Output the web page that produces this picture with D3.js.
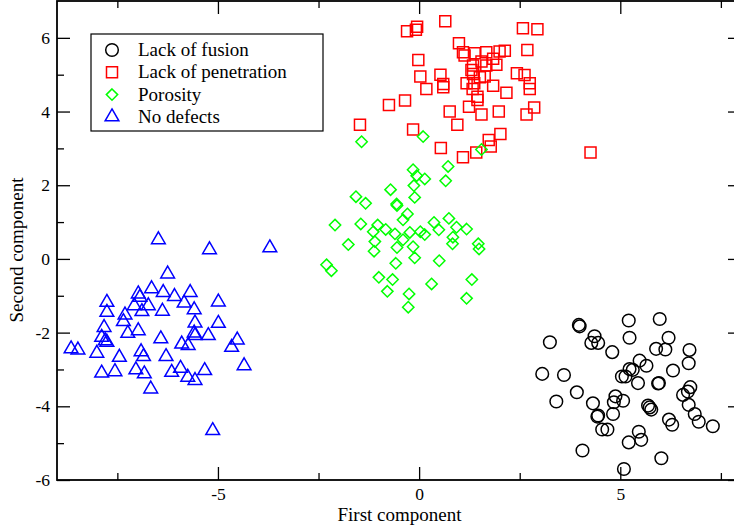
<!DOCTYPE html>
<html>
<head>
<meta charset="utf-8">
<script src="https://cdn.jsdelivr.net/npm/d3@7"></script>
<style>
  body { margin: 0; background: #fff; }
  svg text { font-family: "Liberation Serif", "Times New Roman", serif; fill: #000; }
</style>
</head>
<body>
<svg id="chart"></svg>
<script>
// component scores, [first, second]
const lackOfFusion = [
  [3.97,-1.79],[3.99,-1.83],[5.21,-1.67],[5.98,-1.63],[3.25,-2.26],[4.36,-2.10],[4.28,-2.28],[4.45,-2.28],
  [4.80,-2.53],[5.23,-2.14],[6.20,-2.14],[5.89,-2.44],[6.12,-2.46],[6.72,-2.47],[5.48,-2.76],[5.65,-2.90],
  [5.23,-2.99],[5.31,-3.01],[6.70,-2.83],[6.31,-3.03],[3.06,-3.12],[3.60,-3.15],[5.04,-3.19],[5.13,-3.19],
  [5.44,-3.37],[5.96,-3.37],[5.94,-3.38],[6.74,-3.48],[3.92,-3.62],[6.56,-3.69],[6.68,-3.60],[4.88,-3.73],
  [5.07,-3.85],[4.84,-3.89],[3.41,-3.87],[4.32,-3.92],[6.70,-3.96],[5.69,-3.98],[5.73,-4.03],[5.77,-4.09],
  [4.45,-4.25],[4.82,-4.21],[6.85,-4.21],[4.43,-4.28],[6.21,-4.36],[6.95,-4.42],[6.29,-4.50],[7.30,-4.54],
  [4.55,-4.63],[4.68,-4.63],[5.46,-4.69],[5.52,-4.91],[5.21,-4.98],[4.06,-5.20],[6.02,-5.41],[5.09,-5.70]
];
const lackOfPenetration = [
  [-0.05,6.30],[-0.30,6.18],[-0.08,6.22],[0.65,6.45],[2.58,6.26],[2.94,6.23],[0.99,5.85],[-0.02,5.40],
  [1.09,5.61],[1.38,5.58],[1.67,5.61],[2.00,5.63],[2.13,5.65],[2.69,5.67],[1.13,5.52],[1.55,5.36],
  [1.84,5.43],[1.92,5.27],[1.34,5.25],[1.67,5.25],[1.30,5.13],[0.03,4.95],[0.53,5.00],[1.34,5.02],
  [1.63,4.95],[1.51,4.93],[2.43,5.04],[2.62,4.99],[0.60,4.75],[0.60,4.66],[1.18,4.77],[1.37,4.77],
  [1.84,4.70],[2.75,4.77],[0.18,4.61],[1.33,4.61],[2.17,4.51],[2.75,4.61],[1.45,4.40],[1.45,4.31],
  [-0.35,4.30],[-0.75,4.18],[0.76,4.00],[1.24,4.13],[1.98,4.00],[2.86,4.11],[1.55,3.92],[2.67,3.92],
  [-1.47,3.64],[0.95,3.64],[-0.15,3.51],[2.02,3.39],[1.73,3.23],[0.54,3.01],[1.78,3.05],[1.42,2.89],
  [1.09,2.76],[4.26,2.89]
];
const porosity = [
  [-1.43,3.18],[0.10,3.32],[1.55,2.97],[0.72,2.51],[0.66,2.12],[-0.15,2.42],[-0.06,2.26],[0.14,2.17],
  [-0.13,1.99],[-0.71,1.88],[-0.11,1.67],[-1.57,1.69],[-1.33,1.51],[-0.56,1.49],[-0.55,1.45],[-0.29,1.22],
  [-0.40,1.06],[-2.09,0.92],[-1.45,0.95],[-1.03,0.92],[0.74,1.10],[0.37,0.99],[-1.14,0.74],[-0.83,0.80],
  [-0.60,0.68],[-0.23,0.72],[0.03,0.74],[0.14,0.66],[0.49,0.79],[0.93,0.86],[1.18,0.81],[0.84,0.59],
  [-0.40,0.52],[-1.10,0.47],[-1.76,0.39],[-0.55,0.31],[-0.15,0.33],[-1.12,0.21],[0.83,0.41],[1.47,0.41],
  [1.49,0.27],[-0.11,0.03],[0.50,-0.05],[-0.58,-0.12],[-2.30,-0.16],[-2.18,-0.32],[-1.00,-0.50],[-0.66,-0.56],
  [0.31,-0.68],[1.31,-0.56],[-0.79,-0.88],[-0.25,-0.95],[1.18,-1.07],[-0.27,-1.31]
];
const noDefects = [
  [-6.48,0.52],[-5.21,0.25],[-3.71,0.30],[-6.25,-0.41],[-6.65,-0.81],[-6.98,-0.95],[-6.36,-0.91],[-6.08,-1.02],
  [-5.69,-0.91],[-7.76,-1.18],[-6.94,-1.04],[-7.08,-1.27],[-6.73,-1.27],[-5.84,-1.20],[-4.99,-1.17],[-7.76,-1.45],
  [-7.31,-1.52],[-6.89,-1.43],[-6.38,-1.42],[-5.59,-1.38],[-7.35,-1.70],[-5.57,-1.74],[-4.99,-1.75],[-7.83,-1.86],
  [-6.98,-1.95],[-7.24,-2.02],[-7.89,-2.13],[-7.80,-2.22],[-7.76,-2.26],[-6.42,-2.17],[-5.57,-2.08],[-5.59,-2.01],
  [-5.24,-2.08],[-4.52,-2.20],[-5.90,-2.31],[-5.74,-2.35],[-4.66,-2.40],[-8.65,-2.44],[-8.48,-2.47],[-8.01,-2.56],
  [-6.91,-2.52],[-7.45,-2.67],[-6.85,-2.65],[-6.29,-2.65],[-4.35,-2.90],[-7.89,-3.10],[-7.56,-3.06],[-7.04,-3.01],
  [-6.83,-3.12],[-6.15,-3.08],[-5.93,-2.97],[-5.75,-3.21],[-5.57,-3.30],[-5.33,-3.03],[-6.67,-3.53],[-5.13,-4.66]
];

const seriesNames = ["Lack of fusion", "Lack of penetration", "Porosity", "No defects"];
const seriesColors = ["#000000", "#ff0000", "#00ff00", "#0000ff"];
const xMajorTicks = [-5, 0, 5];
const xMinorTicks = [-7.5, -2.5, 2.5, 7.5];
const yMajorTicks = [-6, -4, -2, 0, 2, 4, 6];
const yMinorTicks = [-5, -3, -1, 1, 3, 5];

const width = 734;
const height = 529;
const margin = { top: 1, right: -7, bottom: 49, left: 57 };
const innerW = width - margin.left - margin.right;
const innerH = height - margin.top - margin.bottom;

const svg = d3.select("#chart").attr("width", width).attr("height", height);
const g = svg.append("g").attr("transform", "translate(" + margin.left + "," + margin.top + ")");

const x = d3.scaleLinear().domain([-9, 8]).range([0, innerW]);
const y = d3.scaleLinear().domain([-6, 7]).range([innerH, 0]);

// axes: ticks point inward, labels only on bottom and left
function addAxis(axis, transform) {
  const a = g.append("g").attr("transform", transform).call(axis);
  a.select(".domain").remove();
  a.selectAll("line").attr("stroke", "#000").attr("stroke-width", 1.3);
  a.selectAll("text").style("font-size", "17.5px").attr("fill", "#000");
  return a;
}
addAxis(d3.axisBottom(x).tickValues(xMajorTicks).tickSize(-13).tickPadding(8).tickFormat(d3.format("d")), "translate(0," + innerH + ")");
addAxis(d3.axisBottom(x).tickValues(xMinorTicks).tickSize(-7).tickFormat(""), "translate(0," + innerH + ")");
addAxis(d3.axisTop(x).tickValues(xMajorTicks).tickSize(-13).tickFormat(""), "translate(0,0)");
addAxis(d3.axisTop(x).tickValues(xMinorTicks).tickSize(-7).tickFormat(""), "translate(0,0)");
addAxis(d3.axisLeft(y).tickValues(yMajorTicks).tickSize(-13).tickPadding(7).tickFormat(d3.format("d")), "translate(0,0)");
addAxis(d3.axisLeft(y).tickValues(yMinorTicks).tickSize(-7).tickFormat(""), "translate(0,0)");
addAxis(d3.axisRight(y).tickValues(yMajorTicks).tickSize(-13).tickFormat(""), "translate(" + innerW + ",0)");
addAxis(d3.axisRight(y).tickValues(yMinorTicks).tickSize(-7).tickFormat(""), "translate(" + innerW + ",0)");

// hyphen minus like the original
g.selectAll(".tick text").text(function () { return d3.select(this).text().replace("\u2212", "-"); });

g.append("rect")
  .attr("width", innerW).attr("height", innerH)
  .attr("fill", "none").attr("stroke", "#000").attr("stroke-width", 1.8);

const symbols = [
  d3.symbol().type(d3.symbolCircle).size(125),
  d3.symbol().type(d3.symbolSquare).size(121),
  d3.symbol().type(d3.symbolDiamond2).size(82),
  d3.symbol().type(d3.symbolTriangle2).size(135)
];
const allSeries = [lackOfFusion, lackOfPenetration, porosity, noDefects];

allSeries.forEach((data, i) => {
  g.append("g").selectAll("path")
    .data(data)
    .enter()
    .append("path")
    .attr("d", symbols[i]())
    .attr("transform", d => "translate(" + x(d[0]) + "," + y(d[1]) + ")")
    .attr("fill", "none")
    .attr("stroke", seriesColors[i])
    .attr("stroke-width", 1.5);
});

// axis titles
svg.append("text")
  .attr("x", 399.5).attr("y", 521)
  .attr("text-anchor", "middle")
  .style("font-size", "19px")
  .text("First component");

svg.append("text")
  .attr("transform", "translate(23,250) rotate(-90)")
  .attr("text-anchor", "middle")
  .style("font-size", "19px")
  .text("Second component");

// legend
const legend = svg.append("g").attr("transform", "translate(91,34)");
legend.append("rect")
  .attr("width", 232).attr("height", 97)
  .attr("fill", "#fff").attr("stroke", "#000").attr("stroke-width", 1.2);

const legendRows = legend.selectAll(".row")
  .data(seriesNames)
  .enter()
  .append("g")
  .attr("class", "row")
  .attr("transform", (d, i) => "translate(21," + (16 + i * 22.3) + ")");

legendRows.append("path")
  .attr("d", (d, i) => symbols[i]())
  .attr("fill", "none")
  .attr("stroke", (d, i) => seriesColors[i])
  .attr("stroke-width", 1.5);

legendRows.append("text")
  .attr("x", 26).attr("y", 6)
  .style("font-size", "19px")
  .text(d => d);
</script>
</body>
</html>
